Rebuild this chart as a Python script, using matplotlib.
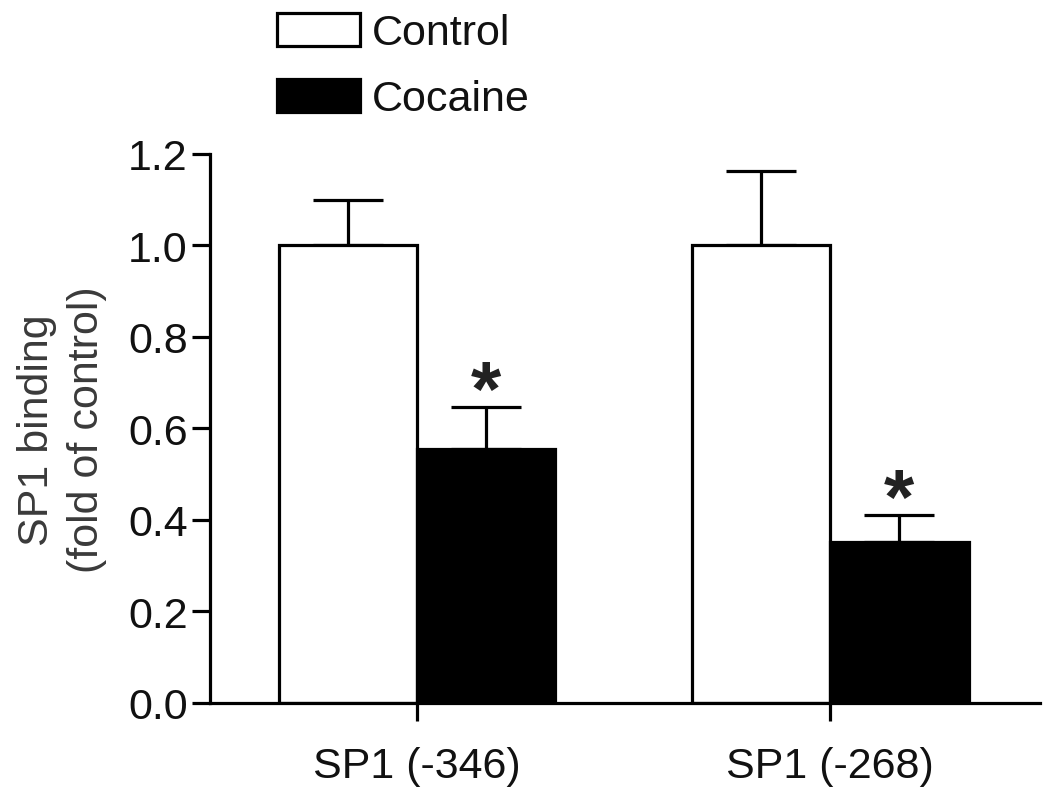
import numpy as np
import matplotlib
matplotlib.use('Agg')
import matplotlib.pyplot as plt

plt.rcParams['font.family'] = ['Liberation Sans', 'DejaVu Sans']

# data
sites = ['SP1 (-346)', 'SP1 (-268)']
control_mean = [1.00, 1.00]
control_err = [0.10, 0.163]
cocaine_mean = [0.555, 0.352]
cocaine_err = [0.092, 0.059]
significant = [True, True]
yticks = [0.0, 0.2, 0.4, 0.6, 0.8, 1.0, 1.2]

fig = plt.figure(figsize=(10.5, 8.03), dpi=100)
ax = fig.add_axes([0.2, 0.1233, 0.7905, 0.6837])

x = np.arange(len(sites))
w = 0.335
lw = 2.3
ink = '#111111'

ax.bar(x - w / 2, control_mean, w, color='white', edgecolor='black',
       linewidth=lw, label='Control', zorder=2)
ax.bar(x + w / 2, cocaine_mean, w, color='black', edgecolor='black',
       linewidth=lw, label='Cocaine', zorder=2)

zeros = [0] * len(sites)
ax.errorbar(x - w / 2, control_mean, yerr=[zeros, control_err], fmt='none',
            ecolor='black', elinewidth=lw, capsize=25.5, capthick=lw, zorder=1)
ax.errorbar(x + w / 2, cocaine_mean, yerr=[zeros, cocaine_err], fmt='none',
            ecolor='black', elinewidth=lw, capsize=25.5, capthick=lw, zorder=1)

# significance stars above the cocaine error bars
for xi, m, e, sig in zip(x, cocaine_mean, cocaine_err, significant):
    if sig:
        ax.annotate('*', xy=(xi + w / 2, m + e), xytext=(0, 9),
                    textcoords='offset points', ha='center', va='center',
                    fontsize=56, fontweight='bold', color='#222222')

ax.set_xlim(-0.501, 1.508)
ax.set_ylim(0, 1.2)
ax.set_yticks(yticks)
ax.set_yticklabels([f'{t:.1f}' for t in yticks])
ax.set_xticks(x)
ax.set_xticklabels(sites)

for s in ['top', 'right']:
    ax.spines[s].set_visible(False)
for s in ['left', 'bottom']:
    ax.spines[s].set_linewidth(lw)

ax.tick_params(axis='y', length=13, width=lw, pad=3, labelsize=31,
               labelcolor=ink)
ax.tick_params(axis='x', length=13, width=lw, pad=18, labelsize=31,
               labelcolor=ink)

fig.text(62 / 1050, 1 - 430 / 803, 'SP1 binding\n(fold of control)',
         rotation=90, ha='center', va='center', multialignment='center',
         fontsize=31, linespacing=1.3, color='#3a3a3a')

ax.legend(loc='upper left', bbox_to_anchor=(277 / 1050, 1 - 14 / 803),
          bbox_transform=fig.transFigure, frameon=False, fontsize=31,
          handlelength=1.93, handleheight=0.79, handletextpad=0.28,
          labelspacing=0.6, borderpad=0, borderaxespad=0, labelcolor=ink)

fig.savefig('out.png', dpi=100)
